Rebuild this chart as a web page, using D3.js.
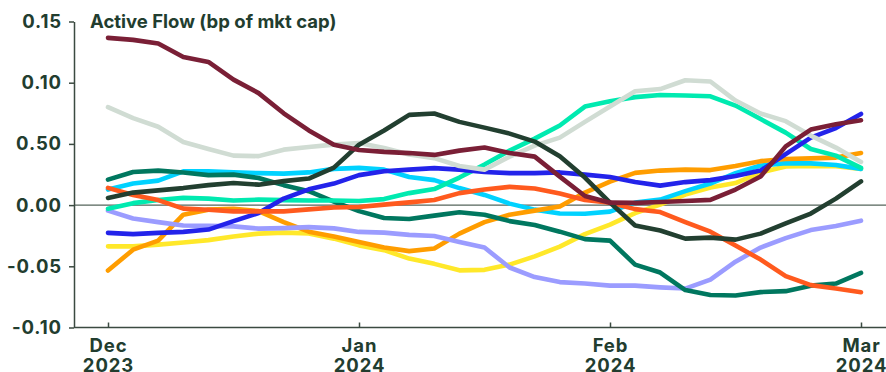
<!DOCTYPE html>
<html>
<head>
<meta charset="utf-8">
<script src="https://cdn.jsdelivr.net/npm/d3@7"></script>
<style>
  html, body { margin: 0; padding: 0; background: #ffffff; }
  svg { display: block; }
  text { font-family: Inter, "Noto Sans", sans-serif; font-weight: 700; fill: #223d2f; }
</style>
</head>
<body>
<svg id="chart" width="886" height="372"></svg>
<script>
// Month ticks (position in months from start of Dec 2023)
const monthTicks = [0, 1, 2, 3];
const monthNames = ["Dec", "Jan", "Feb", "Mar"];
const yearNames = ["2023", "2024", "2024", "2024"];

// Y ticks and their printed labels
const yTicks = [0.15, 0.10, 0.05, 0.00, -0.05, -0.10];
const yTickLabels = ["0.15", "0.10", "0.50", "0.00", "-0.05", "-0.10"];

// Observation points every tenth of a month
const obs = d3.range(31).map(i => i / 10);

const maroon = [0.1366,0.135,0.132,0.121,0.117,0.1025,0.0915,0.075,0.061,0.0494,0.045,0.0435,0.0425,0.041,0.0445,0.047,0.0425,0.0396,0.0233,0.0074,0.002,0.0018,0.0025,0.0033,0.0043,0.0127,0.0233,0.048,0.0617,0.066,0.0693];
const sage = [0.080,0.071,0.064,0.0515,0.0458,0.0404,0.040,0.0453,0.0474,0.0494,0.0507,0.0466,0.0413,0.0384,0.0319,0.029,0.0396,0.0486,0.0551,0.068,0.0805,0.093,0.0948,0.102,0.101,0.0854,0.0748,0.0686,0.0568,0.047,0.0353];
const forest = [0.0059,0.0102,0.012,0.0139,0.0163,0.018,0.0167,0.0196,0.0217,0.0306,0.0494,0.061,0.0737,0.0748,0.068,0.0633,0.0584,0.0519,0.0399,0.0225,0.002,-0.0167,-0.0208,-0.0274,-0.0266,-0.0282,-0.0233,-0.015,-0.0069,0.0053,0.0194];
const teal = [0.0208,0.0271,0.0282,0.0267,0.0245,0.0249,0.0222,0.0163,0.0114,0.0029,-0.0049,-0.0106,-0.0114,-0.0086,-0.0059,-0.0079,-0.0131,-0.0163,-0.0217,-0.0278,-0.029,-0.0486,-0.0551,-0.0694,-0.0735,-0.0738,-0.0711,-0.0703,-0.0658,-0.0641,-0.0554];
const cyan = [0.0127,0.0176,0.020,0.0276,0.0276,0.0267,0.0261,0.0257,0.0267,0.0296,0.0304,0.029,0.023,0.0204,0.0139,0.0083,0.0012,-0.0037,-0.0069,-0.0071,-0.0053,0.002,0.0045,0.0114,0.0176,0.0261,0.0323,0.0343,0.0341,0.0327,0.0296];
const blue = [-0.0227,-0.0237,-0.0227,-0.0219,-0.020,-0.0131,-0.0065,0.0053,0.0129,0.0176,0.0245,0.0277,0.029,0.0302,0.029,0.027,0.0261,0.0261,0.0267,0.0249,0.023,0.0188,0.0159,0.0188,0.0204,0.0237,0.0282,0.0417,0.0551,0.0629,0.0745];
const mint = [-0.0029,0.0016,0.0041,0.0059,0.0053,0.0037,0.0045,0.0041,0.0037,0.0037,0.0033,0.0049,0.0098,0.0131,0.0225,0.0331,0.0445,0.0543,0.065,0.0805,0.0848,0.0882,0.0899,0.0896,0.0889,0.0813,0.0703,0.0592,0.0458,0.0404,0.0304];
const orange = [-0.0535,-0.0364,-0.029,-0.0078,-0.0037,-0.0031,-0.0049,-0.0139,-0.0217,-0.0256,-0.0302,-0.0347,-0.0376,-0.0355,-0.0233,-0.0139,-0.0078,-0.0045,-0.0012,0.0102,0.0192,0.0263,0.0282,0.029,0.0286,0.0319,0.0359,0.0377,0.0382,0.0388,0.0426];
const vermilion = [0.0141,0.0082,0.0041,-0.0029,-0.0038,-0.0051,-0.0051,-0.0051,-0.0035,-0.002,-0.0015,0.0004,0.0022,0.0042,0.0098,0.0127,0.0149,0.0135,0.0094,0.0041,0.002,-0.0033,-0.0057,-0.0139,-0.0217,-0.0331,-0.0445,-0.058,-0.0654,-0.0681,-0.0712];
const lavender = [-0.0045,-0.011,-0.0139,-0.0167,-0.017,-0.0174,-0.0192,-0.0188,-0.018,-0.019,-0.0219,-0.0225,-0.0243,-0.0253,-0.0302,-0.0347,-0.051,-0.0588,-0.0629,-0.0641,-0.0658,-0.0658,-0.0672,-0.0682,-0.0609,-0.0462,-0.0347,-0.027,-0.0204,-0.017,-0.0127];
const yellow = [-0.0337,-0.0337,-0.0323,-0.0306,-0.0286,-0.0257,-0.0233,-0.0225,-0.0231,-0.0274,-0.0329,-0.0368,-0.0437,-0.048,-0.0533,-0.0529,-0.0486,-0.0419,-0.0339,-0.0237,-0.0159,-0.0065,0.0004,0.0086,0.0143,0.018,0.0266,0.0315,0.0319,0.0317,0.0296];

// Drawing order, bottom to top
const series = [
  { values: yellow,    color: "#ffe82a" },
  { values: cyan,      color: "#00d2ff" },
  { values: orange,    color: "#ff9d00" },
  { values: lavender,  color: "#9b9cff" },
  { values: teal,      color: "#00775f" },
  { values: mint,      color: "#00eab0" },
  { values: blue,      color: "#2323ea" },
  { values: vermilion, color: "#ff5a1e" },
  { values: sage,      color: "#d0dcd3" },
  { values: forest,    color: "#223f30" },
  { values: maroon,    color: "#7a1f36" }
];

const svg = d3.select("#chart");
const axisColor = "#3b4a41";
const labelSize = 18.5;

const x = d3.scaleLinear().domain([0, 3]).range([108, 861]);
const y = d3.scaleLinear().domain([-0.10, 0.15]).range([327.5, 21.5]);
const left = 74, right = 886;

// Zero reference line
svg.append("line")
  .attr("x1", left).attr("x2", right)
  .attr("y1", y(0)).attr("y2", y(0))
  .attr("stroke", "#55655b").attr("stroke-width", 1.3);

// Left axis
const yAxis = svg.append("g")
  .attr("transform", `translate(${left},0)`)
  .call(d3.axisLeft(y)
    .tickValues(yTicks)
    .tickFormat((d, i) => yTickLabels[i])
    .tickSize(5).tickSizeOuter(0).tickPadding(7));
yAxis.attr("font-family", null).attr("font-size", null);
yAxis.select(".domain").attr("stroke", axisColor).attr("stroke-width", 1.5);
yAxis.selectAll(".tick line").attr("stroke", axisColor).attr("stroke-width", 1.5);
yAxis.selectAll(".tick text")
  .attr("font-size", labelSize)
  .attr("letter-spacing", "0.9")
  .attr("fill", "#223d2f");

// Bottom axis
const xAxis = svg.append("g")
  .attr("transform", `translate(0,${y(-0.10)})`)
  .call(d3.axisBottom(x).tickValues(monthTicks).tickSize(-5).tickSizeOuter(0).tickFormat(() => ""));
xAxis.attr("font-family", null).attr("font-size", null);
xAxis.select(".domain").attr("d", `M${left},0H${right}`).attr("stroke", axisColor).attr("stroke-width", 1.5);
xAxis.selectAll(".tick line").attr("stroke", axisColor).attr("stroke-width", 1.5);
xAxis.selectAll(".tick text").remove();
xAxis.selectAll(".tick").each(function (d, i) {
  const g = d3.select(this);
  g.append("text")
    .attr("text-anchor", "middle").attr("font-size", labelSize)
    .attr("letter-spacing", "0.9").attr("y", 24.5)
    .text(monthNames[i]);
  g.append("text")
    .attr("text-anchor", "middle").attr("font-size", labelSize)
    .attr("letter-spacing", "0.9").attr("y", 44)
    .text(yearNames[i]);
});

// Title
svg.append("text")
  .attr("x", 90).attr("y", 28)
  .attr("font-size", 18.5)
  .text("Active Flow (bp of mkt cap)");

// Series lines
const line = d3.line()
  .x((d, i) => x(obs[i]))
  .y(d => y(d))
  .curve(d3.curveLinear);

svg.append("g").selectAll("path")
  .data(series)
  .join("path")
  .attr("d", s => line(s.values))
  .attr("fill", "none")
  .attr("stroke", s => s.color)
  .attr("stroke-width", 4.6)
  .attr("stroke-linecap", "round")
  .attr("stroke-linejoin", "round");
</script>
</body>
</html>
